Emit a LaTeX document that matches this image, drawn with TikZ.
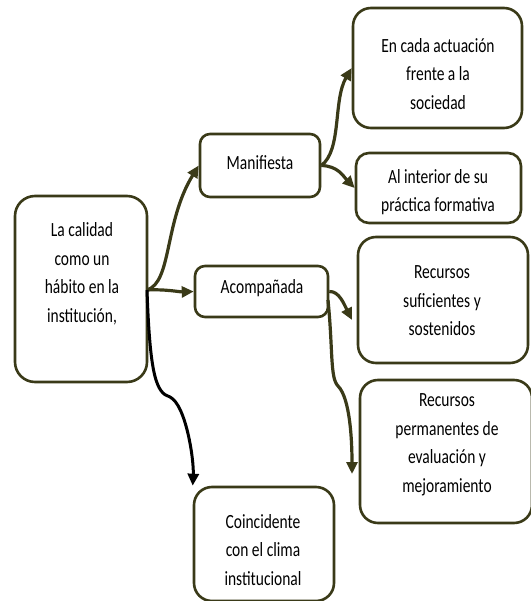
\documentclass[tikz,border=0pt]{standalone}
\usepackage{fontspec}
\setmainfont{Carlito}
\usetikzlibrary{arrows.meta}
\definecolor{olive}{RGB}{58,58,24}
\newcommand\vst[1]{\scalebox{1}[1.3]{#1}}
\tikzset{
  box/.style={draw=olive, line width=2.6pt, fill=white, inner sep=0pt},
  txt/.style={align=center, font=\fontsize{15.5}{28.5}\selectfont, inner sep=0pt},
  conn/.style={draw=olive, line width=3.2pt, -{Triangle[length=12pt,width=11pt]}},
  connk/.style={draw=black, line width=3pt, -{Triangle[length=12pt,width=11pt]}}
}
\begin{document}
\begin{tikzpicture}[x=1pt,y=-1pt]
\useasboundingbox (0,0) rectangle (530,601);
% boxes
\draw[box, rounded corners=20pt] (15,196) rectangle (147,382);
\node[box, rounded corners=10pt, minimum width=120pt, minimum height=63pt] (man) at (260,165.5) {};
\node[box, rounded corners=10pt, minimum width=133pt, minimum height=51pt] (aco) at (261.5,291.5) {};
\node[box, rounded corners=18pt, minimum width=169pt, minimum height=120pt] (enc) at (437.5,68) {};
\node[box, rounded corners=13pt, minimum width=165pt, minimum height=70pt] (ali) at (438.5,188) {};
\node[box, rounded corners=18pt, minimum width=170pt, minimum height=126pt] (rsu) at (443,300) {};
\node[box, rounded corners=18pt, minimum width=172pt, minimum height=143pt] (rpe) at (446,451.5) {};
\node[box, rounded corners=18pt, minimum width=140pt, minimum height=114pt] (coi) at (264,544) {};
\coordinate (mainE) at (147,290);
% texts
\node[txt] (tmain) at (82,274) {\vst{La calidad}\\\vst{como un}\\\vst{hábito en la}\\\vst{institución,}};
\node[txt] (tman) at (260,163) {\vst{Manifiesta}};
\node[txt] (taco) at (262,288) {\vst{Acompañada}};
\node[txt] (tenc) at (438,74) {\vst{En cada actuación}\\\vst{frente a la}\\\vst{sociedad}};
\node[txt] (tali) at (438,192) {\vst{Al interior de su}\\\vst{práctica formativa}};
\node[txt] (trsu) at (442,301) {\vst{Recursos}\\\vst{suficientes y}\\\vst{sostenidos}};
\node[txt] (trpe) at (447,445) {\vst{Recursos}\\\vst{permanentes de}\\\vst{evaluación y}\\\vst{mejoramiento}};
\node[txt] (tcoi) at (263,550) {\vst{Coincidente}\\\vst{con el clima}\\\vst{institucional}};
% connectors
\draw[conn] (mainE) .. controls (172,282) and (164,222) .. (man.west);
\draw[conn] (mainE) .. controls (165,289) and (180,292) .. (aco.west);
\draw[connk] (mainE) .. controls (150,375) and (156,393) .. (170,397) .. controls (186,405) and (194,460) .. (coi.north west);
\draw[conn] (man.east) .. controls (342,150) and (333,100) .. (enc.west);
\draw[conn] (man.east) .. controls (338,166) and (343,176) .. (ali.west);
\draw[conn] (aco.east) .. controls (339,291) and (344,304) .. (352,320);
\draw[conn] (328,300) .. controls (333,350) and (330,378) .. (338,386) .. controls (350,398) and (352,440) .. (352,474);
\end{tikzpicture}
\end{document}
